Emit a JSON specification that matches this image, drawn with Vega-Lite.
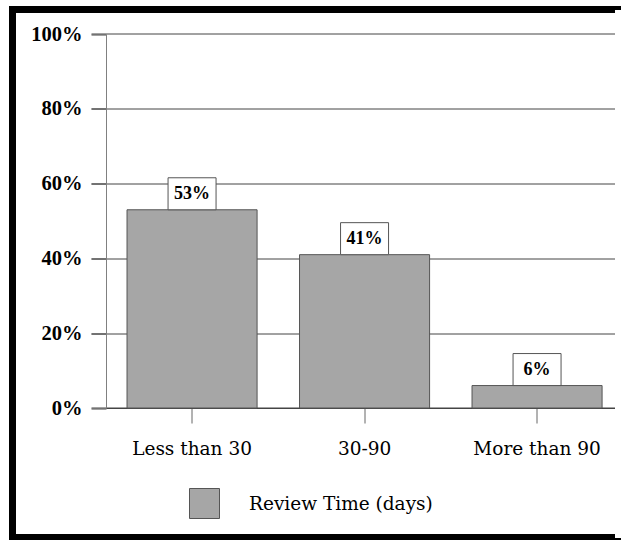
{
  "$schema": "https://vega.github.io/schema/vega-lite/v6.json",
  "width": 608.5,
  "height": 528,
  "autosize": {"type": "none"},
  "padding": {"left": 12.5, "top": 9.5, "right": 0, "bottom": 2.5},
  "background": "white",
  "view": {"stroke": "black", "strokeWidth": 7, "fill": "white"},
  "config": {
    "font": "Liberation Serif"
  },
  "data": {
    "values": [
      {"category": "Less than 30", "share": 0.53, "series": "Review Time (days)"},
      {"category": "30-90", "share": 0.41, "series": "Review Time (days)"},
      {"category": "More than 90", "share": 0.06, "series": "Review Time (days)"}
    ]
  },
  "encoding": {
    "x": {
      "field": "category",
      "type": "nominal",
      "sort": null,
      "scale": {"range": [93.3, 610.8], "paddingInner": 0.246, "paddingOuter": 0.123},
      "axis": {
        "orient": "bottom",
        "offset": -129.5,
        "title": null,
        "labelAngle": 0,
        "labelFont": "DejaVu Serif",
        "labelFontSize": 18.5,
        "labelColor": "black",
        "labelPadding": 16,
        "labelLimit": 0,
        "tickSize": 15,
        "tickColor": "#666666",
        "domainColor": "#444444",
        "grid": false
      }
    }
  },
  "layer": [
    {
      "mark": {"type": "point", "opacity": 0},
      "encoding": {
        "y": {
          "field": "share",
          "type": "quantitative",
          "scale": {"domain": [-0.34626, 1.0655], "nice": false, "zero": false},
          "axis": {
            "orient": "right",
            "offset": 0,
            "values": [0, 0.2, 0.4, 0.6, 0.8, 1],
            "labels": false,
            "domain": true,
            "domainColor": "white",
            "domainWidth": 13,
            "title": null,
            "grid": false,
            "tickSize": -530,
            "tickColor": "#444444",
            "tickWidth": 1
          }
        }
      }
    },
    {
      "mark": {"type": "bar", "stroke": "#555555", "strokeWidth": 1},
      "encoding": {
        "y": {
          "field": "share",
          "type": "quantitative",
          "scale": {"domain": [0, 1], "range": [398.5, 24.5]},
          "axis": {
            "orient": "left",
            "offset": -93.5,
            "values": [0, 0.2, 0.4, 0.6, 0.8, 1],
            "format": ".0%",
            "title": null,
            "grid": false,
            "labelFont": "Liberation Serif",
            "labelFontWeight": "bold",
            "labelFontSize": 20.5,
            "labelColor": "black",
            "labelPadding": 9,
            "tickSize": 15,
            "tickColor": "#444444",
            "domainColor": "#808080"
          }
        },
        "color": {
          "field": "series",
          "type": "nominal",
          "scale": {"range": ["#a6a6a6"]},
          "legend": {
            "orient": "none",
            "legendX": 176.5,
            "legendY": 478.5,
            "title": null,
            "symbolType": "square",
            "symbolSize": 900,
            "symbolStrokeColor": "#555555",
            "symbolStrokeWidth": 1,
            "symbolOpacity": 1,
            "labelFont": "DejaVu Serif",
            "labelFontSize": 18.5,
            "labelColor": "black",
            "labelOffset": 29,
            "labelLimit": 0
          }
        }
      }
    },
    {
      "mark": {
        "type": "point",
        "shape": "M-1.5,-1H1.5V1H-1.5Z",
        "size": 1024,
        "filled": true,
        "fill": "white",
        "stroke": "#555555",
        "strokeWidth": 1,
        "opacity": 1,
        "yOffset": -16
      },
      "encoding": {
        "y": {
          "field": "share",
          "type": "quantitative",
          "scale": {"domain": [0, 1], "range": [398.5, 24.5]},
          "axis": null
        }
      }
    },
    {
      "mark": {
        "type": "text",
        "font": "Liberation Serif",
        "fontWeight": "bold",
        "fontSize": 18,
        "baseline": "middle",
        "dy": -16,
        "color": "black"
      },
      "encoding": {
        "y": {
          "field": "share",
          "type": "quantitative",
          "scale": {"domain": [0, 1], "range": [398.5, 24.5]},
          "axis": null
        },
        "text": {"field": "share", "type": "quantitative", "format": ".0%"}
      }
    }
  ],
  "resolve": {"scale": {"y": "independent"}, "axis": {"y": "independent"}}
}
